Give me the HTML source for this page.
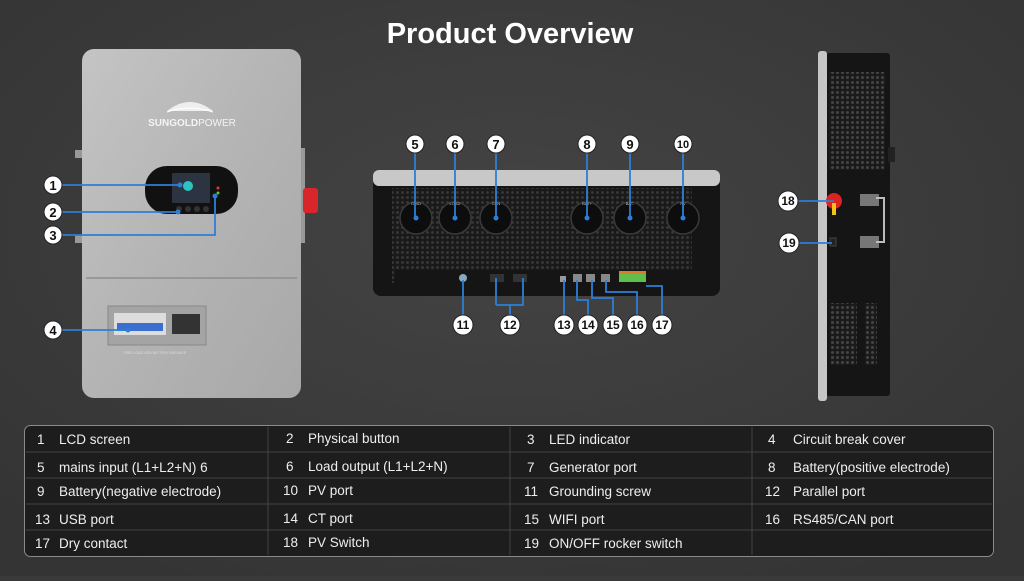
<!DOCTYPE html>
<html><head><meta charset="utf-8"><style>
body{margin:0;width:1024px;height:576px;overflow:hidden;background:#3a3a3a;font-family:"Liberation Sans",sans-serif}
</style></head><body>
<svg width="1024" height="576" xmlns="http://www.w3.org/2000/svg" font-family="Liberation Sans, sans-serif">
<defs>
<radialGradient id="bg" cx="50%" cy="40%" r="70%"><stop offset="0" stop-color="#444"/><stop offset="1" stop-color="#343434"/></radialGradient>
<linearGradient id="silver" x1="0" y1="0" x2="1" y2="1"><stop offset="0" stop-color="#c4c4c4"/><stop offset=".5" stop-color="#b4b4b4"/><stop offset="1" stop-color="#a8a8a8"/></linearGradient>
<pattern id="holes" width="5" height="5" patternUnits="userSpaceOnUse"><rect width="5" height="5" fill="#1a1a1a"/><circle cx="2.5" cy="2.5" r="1.5" fill="#444"/></pattern>
</defs>
<rect width="1024" height="576" fill="url(#bg)"/>
<text x="510" y="43" text-anchor="middle" fill="#fff" font-size="29" font-weight="bold">Product Overview</text>

<!-- Left device -->
<rect x="75" y="150" width="8" height="8" fill="#999"/><rect x="75" y="235" width="8" height="8" fill="#999"/>
<rect x="300" y="148" width="5" height="95" fill="#999"/>
<rect x="303" y="188" width="15" height="25" rx="3" fill="#d8262a"/>
<rect x="82" y="49" width="219" height="349" rx="12" fill="url(#silver)"/>
<line x1="86" y1="278" x2="297" y2="278" stroke="#8e8e8e" stroke-width="1.5"/>
<path d="M167 111 Q190 93 213 111" fill="#eee"/>
<path d="M167 112 Q190 104 213 112" stroke="#fff" fill="none"/>
<text x="192" y="126" text-anchor="middle" fill="#f4f4f4" font-size="10" font-weight="bold">SUNGOLD<tspan font-weight="normal">POWER</tspan></text>
<rect x="145" y="166" width="93" height="48" rx="22" fill="#111"/>
<rect x="172" y="173" width="38" height="30" fill="#2b3440"/>
<circle cx="188" cy="186" r="5" fill="#2bc4c0"/>
<circle cx="179" cy="209" r="3" fill="#333"/><circle cx="188" cy="209" r="3" fill="#333"/><circle cx="197" cy="209" r="3" fill="#333"/><circle cx="206" cy="209" r="3" fill="#333"/>
<circle cx="218" cy="188" r="1.5" fill="#e33"/><circle cx="218" cy="193" r="1.5" fill="#5c3"/>
<rect x="108" y="306" width="98" height="39" fill="#a4a4a4" stroke="#888"/>
<rect x="114" y="313" width="52" height="22" fill="#ddd"/>
<rect x="117" y="323" width="46" height="8" fill="#3a6fcf"/>
<rect x="172" y="314" width="28" height="20" fill="#333"/>
<text x="155" y="354" text-anchor="middle" fill="#ddd" font-size="3.5">GRID LOAD GEN BATTERY BREAKER</text>

<!-- Middle device -->
<rect x="373" y="170" width="347" height="126" rx="8" fill="#151515"/>
<rect x="373" y="170" width="347" height="16" rx="6" fill="#c8c8c8"/>
<rect x="392" y="188" width="300" height="95" fill="url(#holes)" opacity=".7"/>
<g fill="#0d0d0d" stroke="#3a3a3a" stroke-width="1.5">
<circle cx="416" cy="218" r="16"/><circle cx="455" cy="218" r="16"/><circle cx="496" cy="218" r="16"/>
<circle cx="587" cy="218" r="16"/><circle cx="630" cy="218" r="16"/><circle cx="683" cy="218" r="16"/>
</g>
<g fill="#ccc" font-size="4" text-anchor="middle"><text x="416" y="205">GRID</text><text x="455" y="205">LOAD</text><text x="496" y="205">GEN</text><text x="587" y="205">BAT+</text><text x="630" y="205">BAT-</text><text x="683" y="205">PV</text></g>
<rect x="395" y="270" width="305" height="24" fill="#151515"/>
<circle cx="463" cy="278" r="4" fill="#8ab"/>
<rect x="490" y="274" width="14" height="8" fill="#333"/><rect x="513" y="274" width="14" height="8" fill="#333"/>
<rect x="560" y="276" width="6" height="6" fill="#999"/>
<rect x="573" y="274" width="9" height="8" fill="#888"/><rect x="586" y="274" width="9" height="8" fill="#888"/><rect x="601" y="274" width="9" height="8" fill="#888"/>
<rect x="619" y="272" width="27" height="10" fill="#5fbf4a"/><rect x="619" y="271" width="27" height="3" fill="#e07a2a"/>

<!-- Right device -->
<rect x="826" y="53" width="64" height="343" rx="3" fill="#151515"/>
<rect x="818" y="51" width="9" height="350" rx="3" fill="#c6c6c6"/>
<rect x="829" y="72" width="56" height="98" fill="url(#holes)"/>
<rect x="830" y="303" width="27" height="62" fill="url(#holes)"/>
<rect x="865" y="303" width="12" height="62" fill="url(#holes)"/>
<rect x="888" y="147" width="7" height="15" fill="#222"/>
<circle cx="834" cy="201" r="8" fill="#d22"/><rect x="832" y="203" width="4" height="12" fill="#f2c21a"/>
<rect x="830" y="238" width="6" height="8" fill="#222" stroke="#444"/>
<rect x="860" y="194" width="19" height="12" fill="#777"/><rect x="860" y="236" width="19" height="12" fill="#777"/>
<path d="M876 198 H884 V242 H876" stroke="#bbb" stroke-width="2" fill="none"/>

<!-- callout lines -->
<g stroke="#2c7fd8" stroke-width="1.8" fill="none">
<path d="M62 185 H180"/><path d="M62 212 H178"/><path d="M62 235 H215 V196"/><path d="M62 330 H128"/>
<path d="M415 153 V218"/><path d="M455 153 V218"/><path d="M496 153 V218"/><path d="M587 153 V218"/><path d="M630 153 V218"/><path d="M683 153 V218"/>
<path d="M463 316 V280"/><path d="M510 316 V305 M496 305 H523 V278 M496 305 V278"/>
<path d="M564 316 V280"/><path d="M588 316 V300 H577 V280"/><path d="M613 316 V298 H592 V280"/><path d="M637 316 V292 H606 V280"/><path d="M662 316 V286 H646"/>
<path d="M797 201 H834"/><path d="M798 243 H832"/>
</g>
<g fill="#2c7fd8"><circle cx="180" cy="185" r="2.5"/><circle cx="178" cy="212" r="2.5"/><circle cx="215" cy="196" r="2.5"/><circle cx="128" cy="330" r="2.5"/>
<circle cx="416" cy="218" r="2.5"/><circle cx="455" cy="218" r="2.5"/><circle cx="496" cy="218" r="2.5"/><circle cx="587" cy="218" r="2.5"/><circle cx="630" cy="218" r="2.5"/><circle cx="683" cy="218" r="2.5"/></g>

<!-- badges -->
<g font-size="13" font-weight="bold" text-anchor="middle">
<g fill="#fff" stroke="#222" stroke-width="1">
<circle cx="53" cy="185" r="9"/><circle cx="53" cy="212" r="9"/><circle cx="53" cy="235" r="9"/><circle cx="53" cy="330" r="9"/>
<circle cx="415" cy="144" r="9"/><circle cx="455" cy="144" r="9"/><circle cx="496" cy="144" r="9"/><circle cx="587" cy="144" r="9"/><circle cx="630" cy="144" r="9"/><circle cx="683" cy="144" r="9"/>
<circle cx="463" cy="325" r="10"/><circle cx="510" cy="325" r="10"/><circle cx="564" cy="325" r="10"/><circle cx="588" cy="325" r="10"/><circle cx="613" cy="325" r="10"/><circle cx="637" cy="325" r="10"/><circle cx="662" cy="325" r="10"/>
<circle cx="788" cy="201" r="10"/><circle cx="789" cy="243" r="10"/>
</g>
<g fill="#111">
<text x="53" y="190">1</text><text x="53" y="217">2</text><text x="53" y="240">3</text><text x="53" y="335">4</text>
<text x="415" y="149">5</text><text x="455" y="149">6</text><text x="496" y="149">7</text><text x="587" y="149">8</text><text x="630" y="149">9</text><text x="683" y="148" font-size="11">10</text>
<text x="463" y="329" font-size="12">11</text><text x="510" y="329" font-size="12">12</text><text x="564" y="329" font-size="12">13</text><text x="588" y="329" font-size="12">14</text><text x="613" y="329" font-size="12">15</text><text x="637" y="329" font-size="12">16</text><text x="662" y="329" font-size="12">17</text>
<text x="788" y="205" font-size="12">18</text><text x="789" y="247" font-size="12">19</text>
</g></g>

<!-- table -->
<rect x="24.5" y="425.5" width="969" height="131" rx="6" fill="#1d1d1d" stroke="#8a8a8a"/>
<g stroke="#444" stroke-width="1">
<line x1="268" y1="427" x2="268" y2="555"/><line x1="510" y1="427" x2="510" y2="555"/><line x1="752" y1="427" x2="752" y2="555"/>
<line x1="26" y1="452" x2="992" y2="452"/><line x1="26" y1="478" x2="992" y2="478"/><line x1="26" y1="504" x2="992" y2="504"/><line x1="26" y1="530" x2="992" y2="530"/>
</g>
<g fill="#eee" font-size="13.5">
<text x="37" y="444">1</text><text x="59" y="444">LCD screen</text>
<text x="286" y="443">2</text><text x="308" y="443">Physical button</text>
<text x="527" y="444">3</text><text x="549" y="444">LED indicator</text>
<text x="768" y="444">4</text><text x="793" y="444">Circuit break cover</text>
<text x="37" y="472">5</text><text x="59" y="472">mains input (L1+L2+N) 6</text>
<text x="286" y="471">6</text><text x="308" y="471">Load output (L1+L2+N)</text>
<text x="527" y="472">7</text><text x="549" y="472">Generator port</text>
<text x="768" y="472">8</text><text x="793" y="472">Battery(positive electrode)</text>
<text x="37" y="496">9</text><text x="59" y="496">Battery(negative electrode)</text>
<text x="283" y="495">10</text><text x="308" y="495">PV port</text>
<text x="524" y="496">11</text><text x="549" y="496">Grounding screw</text>
<text x="765" y="496">12</text><text x="793" y="496">Parallel port</text>
<text x="35" y="524">13</text><text x="59" y="524">USB port</text>
<text x="283" y="523">14</text><text x="308" y="523">CT port</text>
<text x="524" y="524">15</text><text x="549" y="524">WIFI port</text>
<text x="765" y="524">16</text><text x="793" y="524">RS485/CAN port</text>
<text x="35" y="548">17</text><text x="59" y="548">Dry contact</text>
<text x="283" y="547">18</text><text x="308" y="547">PV Switch</text>
<text x="524" y="548">19</text><text x="549" y="548">ON/OFF rocker switch</text>
</g>
</svg>
</body></html>
